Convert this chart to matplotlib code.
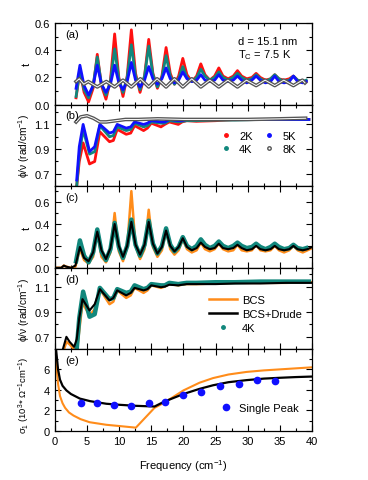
import matplotlib.pyplot as plt
from matplotlib.lines import Line2D
from matplotlib.ticker import MultipleLocator

plt.rcParams['font.family'] = ['Liberation Sans', 'DejaVu Sans']
plt.rcParams['mathtext.fontset'] = 'custom'
plt.rcParams['mathtext.rm'] = 'Liberation Sans'
plt.rcParams['mathtext.it'] = 'Liberation Sans:italic'
plt.rcParams['font.size'] = 8

# ---- (a)/(c) transmission; per fringe: peak, shoulder, trough, shoulder ----
fr_x = [3.3,
        3.9, 4.55, 5.25, 5.95, 6.6, 7.25, 7.95, 8.65, 9.3, 9.95, 10.6, 11.25,
        11.9, 12.55, 13.25, 13.95, 14.6, 15.25, 15.95, 16.65, 17.3, 17.95, 18.6, 19.25,
        19.9, 20.55, 21.3, 22.05, 22.7, 23.35, 24.1, 24.85, 25.5, 26.15, 26.95, 27.75,
        28.4, 29.05, 29.85, 30.65, 31.3, 31.95, 32.75, 33.55, 34.2, 34.85, 35.65, 36.45,
        37.1, 37.75, 38.55, 39.1]
t_2K = [0.05,
        0.25, 0.09, 0.02, 0.12, 0.37, 0.14, 0.04, 0.18, 0.52, 0.20, 0.06, 0.21,
        0.55, 0.23, 0.09, 0.21, 0.48, 0.23, 0.12, 0.21, 0.42, 0.23, 0.15, 0.21,
        0.34, 0.22, 0.17, 0.21, 0.30, 0.22, 0.18, 0.21, 0.27, 0.21, 0.19, 0.21,
        0.25, 0.21, 0.19, 0.20, 0.23, 0.20, 0.18, 0.19, 0.22, 0.19, 0.18, 0.19,
        0.21, 0.18, 0.17, 0.17]
t_4K = [0.06,
        0.25, 0.11, 0.05, 0.14, 0.35, 0.15, 0.07, 0.17, 0.41, 0.19, 0.09, 0.20,
        0.44, 0.21, 0.11, 0.21, 0.43, 0.22, 0.13, 0.20, 0.36, 0.21, 0.15, 0.19,
        0.28, 0.20, 0.17, 0.20, 0.26, 0.21, 0.18, 0.20, 0.24, 0.20, 0.18, 0.20,
        0.23, 0.20, 0.18, 0.19, 0.22, 0.19, 0.17, 0.19, 0.22, 0.19, 0.17, 0.18,
        0.21, 0.18, 0.17, 0.18]
t_5K = [0.12,
        0.29, 0.14, 0.07, 0.14, 0.29, 0.15, 0.09, 0.15, 0.29, 0.16, 0.11, 0.17,
        0.31, 0.18, 0.13, 0.18, 0.28, 0.19, 0.15, 0.19, 0.27, 0.19, 0.16, 0.18,
        0.24, 0.19, 0.17, 0.18, 0.22, 0.18, 0.17, 0.18, 0.22, 0.18, 0.17, 0.18,
        0.21, 0.18, 0.16, 0.18, 0.21, 0.18, 0.16, 0.17, 0.21, 0.17, 0.16, 0.17,
        0.21, 0.17, 0.16, 0.17]
x_8K = [3.3, 3.8, 4.5, 5.2, 6.6, 8.0, 9.3, 10.6, 11.9, 13.3, 14.6, 15.9, 17.3, 18.6,
        19.9, 21.3, 22.7, 24.1, 25.5, 26.9, 28.4, 29.8, 31.3, 32.7, 34.2, 35.6,
        37.1, 38.5, 38.9]
t_8K = [0.17, 0.19, 0.15, 0.17, 0.13, 0.17, 0.13, 0.18, 0.13, 0.19, 0.13, 0.19, 0.13,
        0.19, 0.13, 0.19, 0.13, 0.18, 0.13, 0.18, 0.13, 0.18, 0.14, 0.18, 0.14,
        0.18, 0.14, 0.18, 0.16]

# ---- (b)/(d) phase ----
ph_x = [3.4, 3.8, 4.4, 5.4, 6.2, 7.0, 8.5, 9.1, 9.7, 11.1, 11.8, 12.4, 13.8, 14.4,
        15.0, 16.5, 17.1, 17.8, 19.2, 19.8, 20.5, 22.0, 25.0, 28.0, 32.0, 36.0, 39.5]
phi_2K = [0.60, 0.80, 0.95, 0.78, 0.80, 1.04, 0.96, 0.97, 1.06, 1.02, 1.03, 1.09, 1.05,
          1.07, 1.11, 1.08, 1.10, 1.12, 1.10, 1.12, 1.13, 1.125, 1.13, 1.14, 1.14, 1.14, 1.14]
phi_4K = [0.60, 0.85, 1.06, 0.86, 0.88, 1.09, 1.00, 1.01, 1.08, 1.05, 1.06, 1.11, 1.08,
          1.09, 1.12, 1.11, 1.11, 1.13, 1.12, 1.125, 1.13, 1.13, 1.135, 1.135, 1.14, 1.14, 1.14]
phi_5K = [0.65, 0.92, 1.10, 0.88, 0.92, 1.10, 1.03, 1.04, 1.10, 1.07, 1.08, 1.12, 1.10,
          1.11, 1.13, 1.12, 1.12, 1.14, 1.13, 1.13, 1.14, 1.14, 1.14, 1.14, 1.14, 1.14, 1.14]
ph_x8 = [3.3, 4.0, 5.0, 6.0, 7.0, 8.0, 9.5, 11.0, 13.0, 16.0, 20.0, 25.0, 30.0, 35.0, 39.0]
phi_8K = [1.12, 1.16, 1.17, 1.15, 1.12, 1.12, 1.13, 1.14, 1.14, 1.145, 1.14, 1.14,
          1.14, 1.145, 1.15]

# ---- (c) fits ----
fit_x = [0.0, 1.0, 1.4, 1.8, 2.5, 3.2,
         3.9, 4.55, 5.25, 5.95, 6.6, 7.25, 7.95, 8.65, 9.3, 9.95, 10.6, 11.25,
         11.9, 12.55, 13.25, 13.95, 14.6, 15.25, 15.95, 16.65, 17.3, 17.95, 18.6, 19.25,
         19.9, 20.55, 21.3, 22.05, 22.7, 23.35, 24.1, 24.85, 25.5, 26.15, 26.95, 27.75,
         28.4, 29.05, 29.85, 30.65, 31.3, 31.95, 32.75, 33.55, 34.2, 34.85, 35.65, 36.45,
         37.1, 37.75, 38.55, 39.3, 40.0]
t_bcs_drude = [0.0, 0.0, 0.02, 0.01, 0.0, 0.02,
               0.19, 0.09, 0.06, 0.14, 0.33, 0.16, 0.08, 0.18, 0.40, 0.20, 0.10, 0.20,
               0.42, 0.21, 0.12, 0.21, 0.42, 0.22, 0.13, 0.19, 0.34, 0.20, 0.15, 0.19,
               0.27, 0.19, 0.16, 0.18, 0.23, 0.19, 0.17, 0.18, 0.22, 0.18, 0.17, 0.18,
               0.21, 0.18, 0.16, 0.17, 0.20, 0.17, 0.16, 0.17, 0.20, 0.17, 0.16, 0.17,
               0.20, 0.17, 0.16, 0.17, 0.19]
t_bcs = [0.0, 0.0, 0.02, 0.01, 0.0, 0.01,
         0.17, 0.07, 0.04, 0.10, 0.33, 0.10, 0.05, 0.14, 0.50, 0.15, 0.06, 0.19,
         0.70, 0.20, 0.08, 0.17, 0.53, 0.19, 0.10, 0.16, 0.34, 0.17, 0.12, 0.16,
         0.26, 0.17, 0.14, 0.16, 0.23, 0.17, 0.15, 0.17, 0.22, 0.17, 0.15, 0.16,
         0.21, 0.16, 0.15, 0.16, 0.21, 0.16, 0.15, 0.16, 0.20, 0.16, 0.14, 0.16,
         0.20, 0.16, 0.14, 0.16, 0.18]

# ---- (d) fits ----
pfit_x = [0.0, 1.0, 1.3, 1.8, 2.3, 3.0, 3.4, 3.8, 4.3, 5.4, 6.2, 7.0, 8.5, 9.1, 9.7,
          11.1, 11.8, 12.4, 13.8, 14.4, 15.0, 16.5, 17.1, 17.8, 19.2, 19.8, 20.5,
          22.0, 25.0, 28.0, 32.0, 36.0, 40.0]
phi_bcs_drude = [0.45, 0.55, 0.61, 0.70, 0.66, 0.62, 0.68, 0.85, 1.00, 0.91, 0.96, 1.08,
                 0.99, 1.01, 1.07, 1.03, 1.05, 1.09, 1.07, 1.08, 1.11, 1.095, 1.10,
                 1.115, 1.11, 1.115, 1.12, 1.12, 1.12, 1.125, 1.125, 1.13, 1.13]
phi_bcs = [0.40, 0.52, 0.58, 0.66, 0.64, 0.60, 0.57, 0.75, 0.97, 0.87, 0.92, 1.08,
           0.96, 0.98, 1.07, 1.01, 1.03, 1.09, 1.05, 1.07, 1.11, 1.09, 1.10, 1.12,
           1.11, 1.115, 1.12, 1.12, 1.125, 1.13, 1.13, 1.13, 1.135]

# ---- (e) conductivity ----
sig_x_drude = [0.2, 0.5, 0.8, 1.2, 1.8, 2.5, 3.9, 5.5, 8.0, 10.0, 12.5, 15.5, 17.0,
               20.0, 22.5, 24.6, 27.0, 29.8, 32.5, 35.0, 37.5, 40.0]
sig_bcs_drude = [7.9, 6.0, 5.0, 4.4, 3.95, 3.6, 3.15, 2.9, 2.65, 2.55, 2.45, 2.38, 2.85,
                 3.6, 4.1, 4.45, 4.75, 4.95, 5.1, 5.18, 5.25, 5.3]
sig_x_bcs = [0.1, 0.3, 0.5, 0.8, 1.2, 1.6, 2.2, 2.9, 4.0, 5.4, 8.0, 10.0, 12.6, 15.5,
             17.0, 20.0, 22.5, 24.6, 27.0, 29.8, 32.5, 35.0, 37.5, 40.0]
sig_bcs = [8.0, 6.0, 4.6, 3.4, 2.7, 2.25, 1.8, 1.5, 1.15, 0.85, 0.6, 0.48, 0.32, 2.25,
           2.75, 3.95, 4.7, 5.15, 5.5, 5.75, 5.9, 6.0, 6.1, 6.2]
peak_x = [4.0, 6.6, 9.2, 11.9, 14.6, 17.2, 19.9, 22.7, 25.7, 28.6, 31.5, 34.2]
peak_sig = [2.72, 2.72, 2.56, 2.4, 2.72, 2.85, 3.47, 3.8, 4.4, 4.6, 4.95, 4.9]

RED, TEAL, BLUE, GRAY = '#ff1010', '#11877c', '#1010ff', '#555555'
ORANGE = '#ff8c1a'

fig, axes = plt.subplots(5, 1, figsize=(3.68, 4.81), dpi=100, sharex=True)
fig.subplots_adjust(left=0.149, right=0.848, top=0.950, bottom=0.102, hspace=0)
ax_a, ax_b, ax_c, ax_d, ax_e = axes

# (a)
ax_a.plot(fr_x, t_2K, color=RED, lw=2.0)
ax_a.plot(fr_x, t_4K, color=TEAL, lw=2.0)
ax_a.plot(fr_x, t_5K, color=BLUE, lw=2.0)
ax_a.plot(x_8K, t_8K, color=GRAY, lw=2.6)
ax_a.plot(x_8K, t_8K, color='white', lw=0.7)
ax_a.set_ylim(0, 0.6)
ax_a.yaxis.set_major_locator(MultipleLocator(0.2))
ax_a.yaxis.set_minor_locator(MultipleLocator(0.1))
ax_a.yaxis.set_major_formatter('{x:.1f}')
ax_a.set_ylabel('t')
ax_a.text(0.04, 0.83, '(a)', transform=ax_a.transAxes)
ax_a.text(28.5, 0.467, 'd = 15.1 nm', va='center')
ax_a.text(28.5, 0.37, 'T$_\\mathregular{C}$ = 7.5 K', va='center')

# (b)
ax_b.plot(ph_x, phi_2K, color=RED, lw=2.0)
ax_b.plot(ph_x, phi_4K, color=TEAL, lw=2.0)
ax_b.plot(ph_x, phi_5K, color=BLUE, lw=2.0)
ax_b.plot(ph_x8, phi_8K, color=GRAY, lw=2.6)
ax_b.plot(ph_x8, phi_8K, color='white', lw=0.7)
ax_b.set_ylim(0.6, 1.26)
ax_b.yaxis.set_major_locator(MultipleLocator(0.2, offset=0.1))
ax_b.yaxis.set_minor_locator(MultipleLocator(0.1))
ax_b.yaxis.set_major_formatter('{x:.1f}')
ax_b.set_ylabel('ϕ/ν (rad/cm$^{-1}$)', fontsize=7.3)
ax_b.text(0.04, 0.83, '(b)', transform=ax_b.transAxes)
hb = [Line2D([], [], ls='', marker='o', ms=2.5, color=RED),
      Line2D([], [], ls='', marker='o', ms=2.5, color=TEAL),
      Line2D([], [], ls='', marker='o', ms=2.5, color=BLUE),
      Line2D([], [], ls='', marker='o', ms=2.5, mfc='white', mec=GRAY)]
ax_b.legend(hb, ['2K', '4K', '5K', '8K'], ncol=2, frameon=False,
            loc='upper left', bbox_to_anchor=(0.6, 0.8), handlelength=1.2,
            handletextpad=0.6, columnspacing=0.9, labelspacing=0.3)

# (c)
ax_c.plot(fit_x, t_bcs, color=ORANGE, lw=1.8)
ax_c.plot(fr_x, t_4K, color=TEAL, lw=3.2)
ax_c.plot(fit_x, t_bcs_drude, color='black', lw=1.5)
ax_c.set_ylim(0, 0.745)
ax_c.yaxis.set_major_locator(MultipleLocator(0.2))
ax_c.yaxis.set_minor_locator(MultipleLocator(0.1))
ax_c.yaxis.set_major_formatter('{x:.1f}')
ax_c.set_ylabel('t')
ax_c.text(0.04, 0.83, '(c)', transform=ax_c.transAxes)

# (d)
ax_d.plot(pfit_x, phi_bcs, color=ORANGE, lw=1.8)
ax_d.plot(ph_x, phi_4K, color=TEAL, lw=3.2)
ax_d.plot(pfit_x, phi_bcs_drude, color='black', lw=1.5)
ax_d.set_ylim(0.6, 1.25)
ax_d.yaxis.set_major_locator(MultipleLocator(0.2, offset=0.1))
ax_d.yaxis.set_minor_locator(MultipleLocator(0.1))
ax_d.yaxis.set_major_formatter('{x:.1f}')
ax_d.set_ylabel('ϕ/ν (rad/cm$^{-1}$)', fontsize=7.3)
ax_d.text(0.04, 0.83, '(d)', transform=ax_d.transAxes)
hd = [Line2D([], [], color=ORANGE, lw=1.8),
      Line2D([], [], color='black', lw=1.8),
      Line2D([], [], ls='', marker='o', ms=2.5, color=TEAL)]
ax_d.legend(hd, ['BCS', 'BCS+Drude', '4K'], frameon=False, loc='upper left',
            bbox_to_anchor=(0.56, 0.79), handlelength=2.5, handletextpad=0.5,
            labelspacing=0.35)

# (e)
ax_e.plot(sig_x_bcs, sig_bcs, color=ORANGE, lw=1.5)
ax_e.plot(sig_x_drude, sig_bcs_drude, color='black', lw=1.6)
ax_e.plot(peak_x, peak_sig, ls='', marker='o', ms=4.5, color=BLUE,
          label='Single Peak')
ax_e.set_ylim(0, 7.95)
ax_e.yaxis.set_major_locator(MultipleLocator(2))
ax_e.yaxis.set_minor_locator(MultipleLocator(1))
ax_e.set_ylabel('σ$_1$ (10$^3$* Ω$^{-1}$cm$^{-1}$)', fontsize=6.8)
ax_e.text(0.04, 0.83, '(e)', transform=ax_e.transAxes)
ax_e.legend(frameon=False, loc='upper left', bbox_to_anchor=(0.6, 0.47),
            handlelength=1.2, handletextpad=0.6)

ax_e.set_xlim(0, 40)
ax_e.xaxis.set_major_locator(MultipleLocator(5))
ax_e.xaxis.set_minor_locator(MultipleLocator(2.5))
ax_e.set_xlabel('Frequency (cm$^{-1}$)', labelpad=8)

for ax in axes:
    ax.tick_params(which='both', direction='in', top=True, right=True, width=0.8)
    ax.tick_params(which='major', length=4)
    ax.tick_params(which='minor', length=2)
    ax.yaxis.set_label_coords(-0.09, 0.5)
    for s in ax.spines.values():
        s.set_linewidth(0.9)
ax_e.yaxis.set_label_coords(-0.09, 0.44)

fig.savefig('out.png', dpi=100)
